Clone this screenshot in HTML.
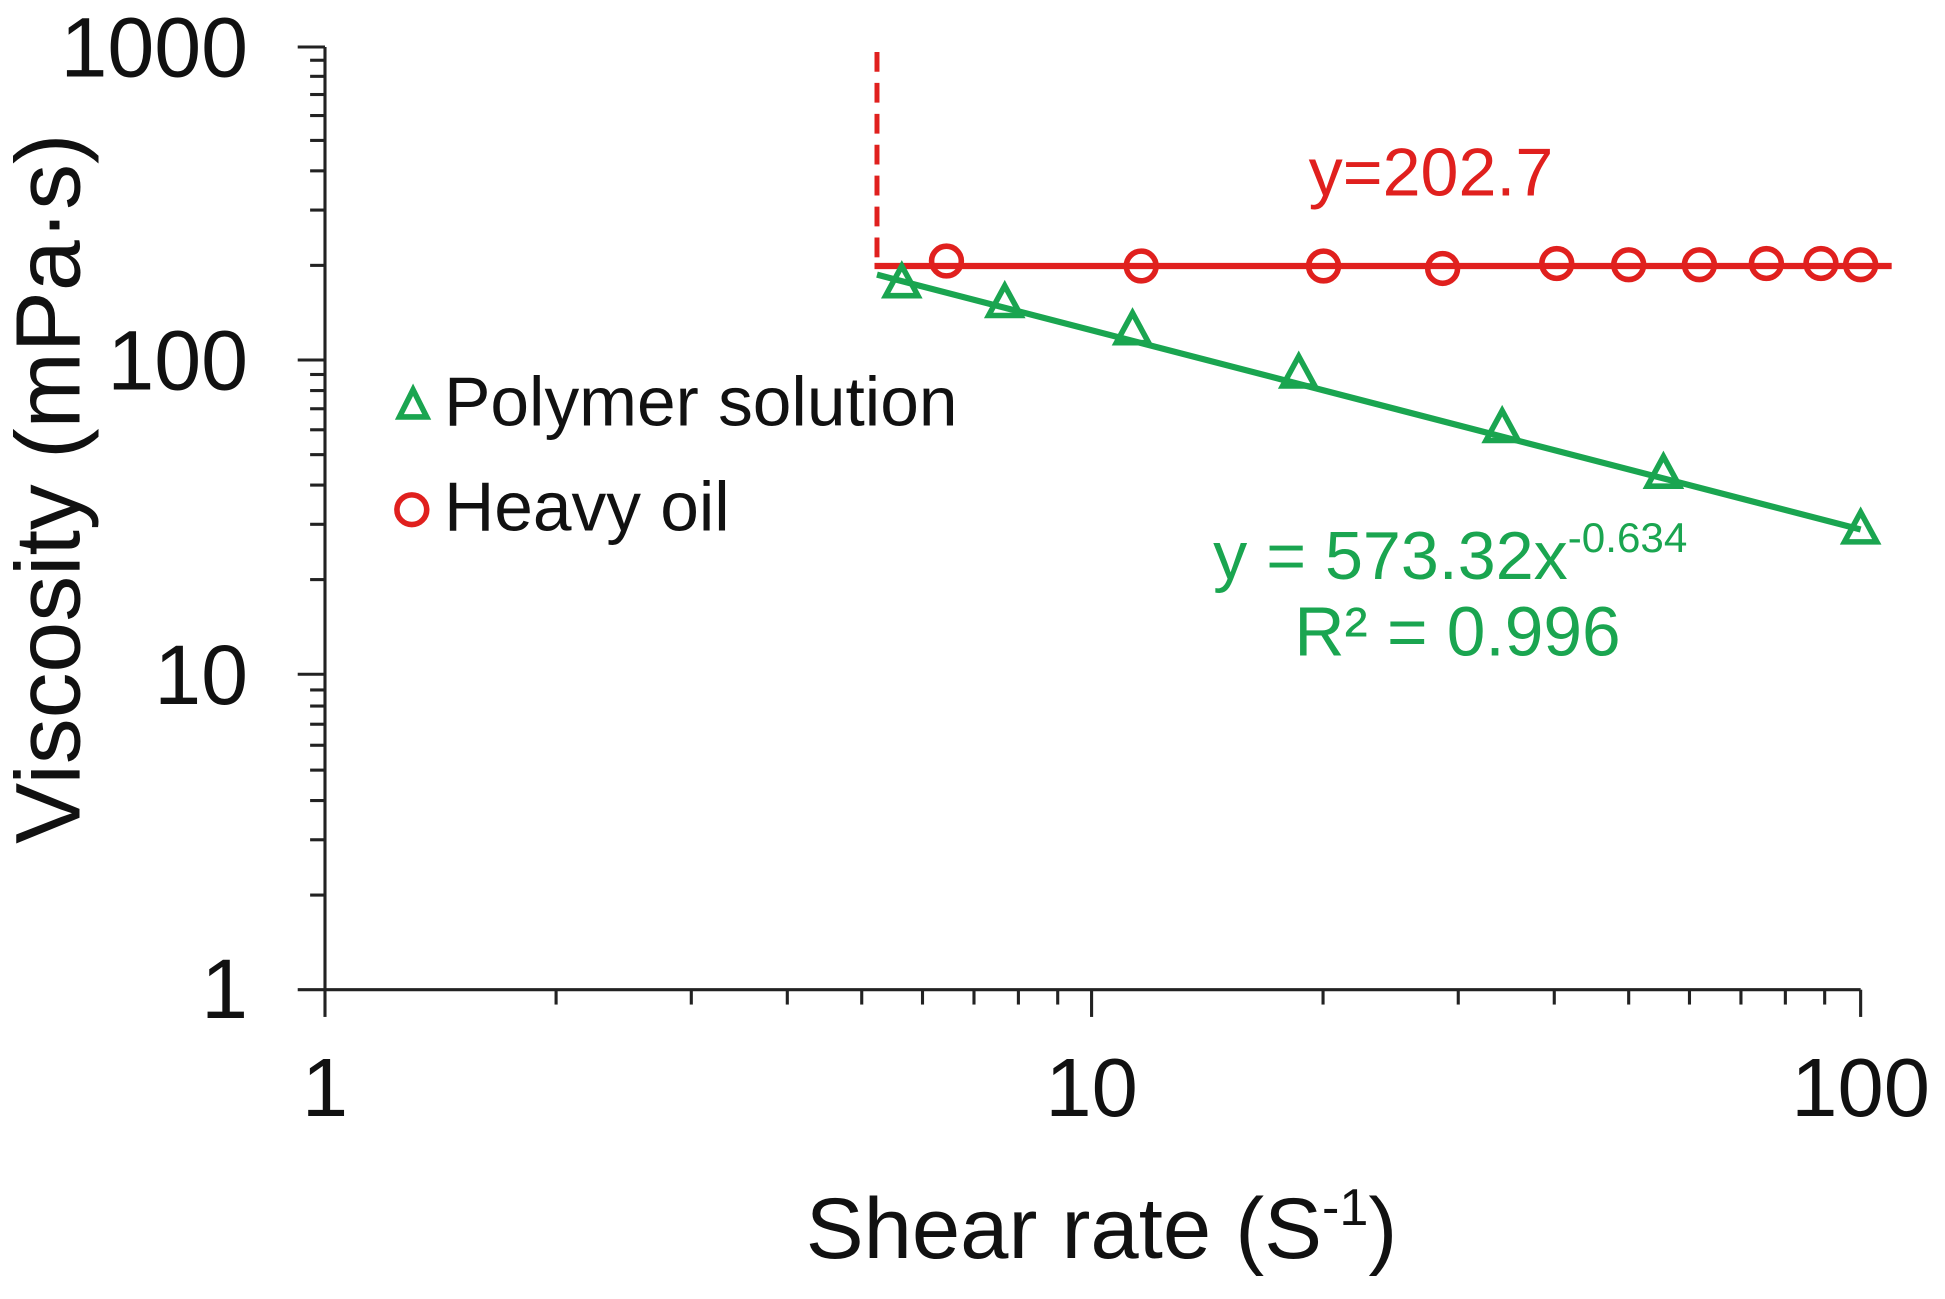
<!DOCTYPE html>
<html><head><meta charset="utf-8"><style>html,body{margin:0;padding:0;background:#fff}svg{display:block}</style></head>
<body>
<svg width="1945" height="1299" viewBox="0 0 1568 1050" preserveAspectRatio="none" xmlns="http://www.w3.org/2000/svg" font-family="Liberation Sans, Arial, sans-serif">
<rect width="1568" height="1050" fill="#fff"/>
<g stroke="#222" stroke-width="2.5" fill="none">
<line x1="262" y1="38" x2="262" y2="800"/>
<line x1="262" y1="800" x2="1500" y2="800"/>
<line x1="240" y1="38" x2="262" y2="38"/>
<line x1="240" y1="291" x2="262" y2="291"/>
<line x1="240" y1="545" x2="262" y2="545"/>
<line x1="240" y1="800" x2="262" y2="800"/>
<line x1="262" y1="800" x2="262" y2="822"/>
<line x1="880" y1="800" x2="880" y2="822"/>
<line x1="1500" y1="800" x2="1500" y2="822"/>
</g>
<g stroke="#222" stroke-width="2.5">
<line x1="250" x2="262" y1="723.5" y2="723.5"/><line x1="250" x2="262" y1="678.8" y2="678.8"/><line x1="250" x2="262" y1="647.1" y2="647.1"/><line x1="250" x2="262" y1="622.5" y2="622.5"/><line x1="250" x2="262" y1="602.4" y2="602.4"/><line x1="250" x2="262" y1="585.4" y2="585.4"/><line x1="250" x2="262" y1="570.7" y2="570.7"/><line x1="250" x2="262" y1="557.7" y2="557.7"/>
<line x1="250" x2="262" y1="468.5" y2="468.5"/><line x1="250" x2="262" y1="423.8" y2="423.8"/><line x1="250" x2="262" y1="392.1" y2="392.1"/><line x1="250" x2="262" y1="367.5" y2="367.5"/><line x1="250" x2="262" y1="347.4" y2="347.4"/><line x1="250" x2="262" y1="330.4" y2="330.4"/><line x1="250" x2="262" y1="315.7" y2="315.7"/><line x1="250" x2="262" y1="302.7" y2="302.7"/>
<line x1="250" x2="262" y1="214.5" y2="214.5"/><line x1="250" x2="262" y1="169.8" y2="169.8"/><line x1="250" x2="262" y1="138.1" y2="138.1"/><line x1="250" x2="262" y1="113.5" y2="113.5"/><line x1="250" x2="262" y1="93.4" y2="93.4"/><line x1="250" x2="262" y1="76.4" y2="76.4"/><line x1="250" x2="262" y1="61.7" y2="61.7"/><line x1="250" x2="262" y1="48.7" y2="48.7"/>
<line y1="800" y2="812" x1="448.3" x2="448.3"/><line y1="800" y2="812" x1="557.3" x2="557.3"/><line y1="800" y2="812" x1="634.7" x2="634.7"/><line y1="800" y2="812" x1="694.7" x2="694.7"/><line y1="800" y2="812" x1="743.7" x2="743.7"/><line y1="800" y2="812" x1="785.2" x2="785.2"/><line y1="800" y2="812" x1="821.0" x2="821.0"/><line y1="800" y2="812" x1="852.7" x2="852.7"/>
<line y1="800" y2="812" x1="1066.6" x2="1066.6"/><line y1="800" y2="812" x1="1175.6" x2="1175.6"/><line y1="800" y2="812" x1="1253.0" x2="1253.0"/><line y1="800" y2="812" x1="1313.0" x2="1313.0"/><line y1="800" y2="812" x1="1362.0" x2="1362.0"/><line y1="800" y2="812" x1="1403.5" x2="1403.5"/><line y1="800" y2="812" x1="1439.3" x2="1439.3"/><line y1="800" y2="812" x1="1471.0" x2="1471.0"/>
</g>
<g font-size="68" fill="#111" text-anchor="end">
<text x="200" y="62">1000</text><text x="200" y="315">100</text><text x="200" y="569">10</text><text x="200" y="823">1</text>
</g>
<g font-size="67" fill="#111" text-anchor="middle">
<text x="262" y="902">1</text><text x="880" y="902">10</text><text x="1500" y="902">100</text>
</g>
<text x="888" y="1017" font-size="70" fill="#111" text-anchor="middle">Shear rate (S<tspan font-size="42" dy="-27">-1</tspan><tspan dy="27">)</tspan></text>
<text transform="translate(64,395) rotate(-90)" font-size="74" fill="#111" text-anchor="middle">Viscosity (mPa·s)</text>
<line x1="707" y1="42" x2="707" y2="215" stroke="#e0201e" stroke-width="4" stroke-dasharray="16,9"/>
<line x1="705" y1="215" x2="1525" y2="215" stroke="#e0201e" stroke-width="5"/>
<g fill="none" stroke="#e0201e" stroke-width="4.5">
<circle cx="763" cy="211" r="12"/><circle cx="920" cy="215" r="12"/><circle cx="1067" cy="215" r="12"/><circle cx="1163" cy="217" r="12"/><circle cx="1255" cy="213" r="12"/><circle cx="1313" cy="214" r="12"/><circle cx="1370" cy="214" r="12"/><circle cx="1424" cy="213" r="12"/><circle cx="1468" cy="213" r="12"/><circle cx="1500" cy="214" r="12"/>
</g>
<line x1="707" y1="222" x2="1500" y2="428" stroke="#1aa550" stroke-width="5"/>
<g fill="none" stroke="#1aa550" stroke-width="4.5">
<path d="M727 215 L740 239 L714 239 Z"/><path d="M810 231 L823 255 L797 255 Z"/><path d="M913 253 L926 277 L900 277 Z"/><path d="M1047 288 L1060 312 L1034 312 Z"/><path d="M1211 332 L1224 356 L1198 356 Z"/><path d="M1341 369 L1354 393 L1328 393 Z"/><path d="M1500 414 L1513 438 L1487 438 Z"/>
<path d="M333 315 L344 337 L322 337 Z"/>
</g>
<circle cx="332" cy="412" r="12" fill="none" stroke="#e0201e" stroke-width="4.5"/>
<text x="358" y="344" font-size="56" fill="#111">Polymer solution</text>
<text x="358" y="429" font-size="56" fill="#111">Heavy oil</text>
<text x="1055" y="158" font-size="55" fill="#e0201e">y=202.7</text>
<text x="978" y="468" font-size="55" fill="#1aa550">y = 573.32x<tspan font-size="34" dy="-22">-0.634</tspan></text>
<text x="1175" y="530" font-size="56" fill="#1aa550" text-anchor="middle">R² = 0.996</text>
</svg>
</body></html>
